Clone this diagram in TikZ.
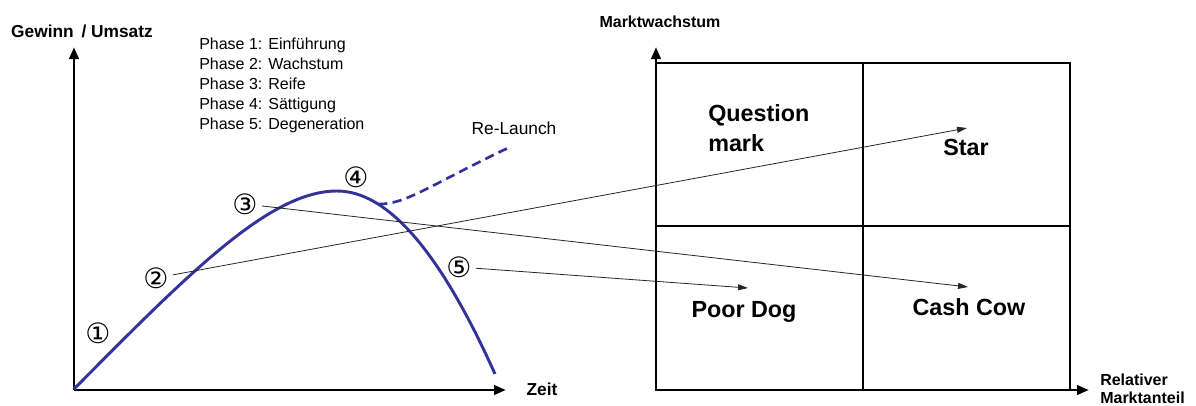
\documentclass[tikz,border=0pt]{standalone}
\usepackage{fontspec}
\setmainfont{Liberation Sans}
\newfontfamily\circfont{DejaVu Sans}
\usetikzlibrary{arrows.meta}
\definecolor{plc}{RGB}{51,51,153}

\begin{document}
\begin{tikzpicture}[x=0.75pt, y=-0.75pt,
  axis/.style={-{Triangle[length=9pt, width=7pt]}, line width=2.2pt},
  grid/.style={line width=1.5pt},
  lifeline/.style={draw=plc, line width=2.2pt},
  relaunch/.style={draw=plc, line width=2pt, dash pattern=on 7pt off 4pt},
  move/.style={-{Triangle[length=7.5pt, width=4.5pt]}, line width=0.6pt, black!85,
               shorten <=12.75pt},
  axlabel/.style={font=\fontsize{13}{15}\selectfont\bfseries, inner sep=0pt},
  axlabelR/.style={font=\fontsize{12}{13}\selectfont\bfseries, inner sep=0pt},
  quad/.style={font=\fontsize{17.5}{22.5}\selectfont\bfseries, inner sep=0pt, align=left},
  numlbl/.style={font=\circfont\fontsize{21}{21}\selectfont, inner sep=0pt}
]
\useasboundingbox (0,0) rectangle (1196,405);

% ── Lebenszyklus (links) ──────────────
\coordinate (o1) at (74,390);
\coordinate (y1) at (74,47);
\coordinate (x1) at (506,390);
\draw[axis] (o1) -- (y1);
\draw[axis] (o1) -- (x1);

\node[axlabel] (gewinn) at (82,31) {Gewinn\ \,/ Umsatz};
\node[axlabel] (zeit) at (542,389) {Zeit};

\node[font=\fontsize{12}{15}\selectfont, align=left, inner sep=0pt, anchor=north west]
  (phasen) at (199,38)
  {Phase 1: Einführung\\Phase 2: Wachstum\\Phase 3: Reife\\Phase 4: Sättigung\\Phase 5: Degeneration};

\draw[lifeline] (74,389) .. controls (190,272) and (270,191) .. (337,191)
  .. controls (400,191) and (455,285) .. (495,374);
\coordinate (rl) at (378,204);
\coordinate (rlend) at (510,147);
\draw[relaunch] (rl) .. controls (405,205) and (430,185) .. (rlend);
\node[font=\fontsize{13}{15}\selectfont, inner sep=0pt] (relaunchlbl) at (514,128) {Re-Launch};

\node[numlbl] (n1) at (98,333) {①};
\node[numlbl] (n2) at (156,278) {②};
\node[numlbl] (n3) at (245,204) {③};
\node[numlbl] (n4) at (356,177) {④};
\node[numlbl] (n5) at (459,267) {⑤};

% ── Portfolio-Matrix (rechts) ─────────
\coordinate (o2) at (656,390);
\coordinate (y2) at (656,47);
\coordinate (x2) at (1089,390);
\draw[grid] (656,63) rectangle (1070,390);
\draw[grid] (863,63) -- (863,390);
\draw[grid] (656,226) -- (1070,226);
\draw[axis] (o2) -- (y2);
\draw[axis] (o2) -- (x2);

\node[axlabelR] (wachstum) at (660,22) {Marktwachstum};
\node[axlabelR, align=left, anchor=north west] (anteil) at (1100,374)
  {Relativer\\Marktanteil};

\node[quad, anchor=north west] (question) at (708,104) {Question\\mark};
\node[quad, anchor=base] (star) at (966,155) {Star};
\node[quad, anchor=base] (dog) at (744,317) {Poor Dog};
\node[quad, anchor=base] (cow) at (969,315) {Cash Cow};

% ── Pfeile ────────────────────────────
\coordinate (tStar) at (967,128);
\coordinate (tCow) at (968,287);
\coordinate (tDog) at (748,288);
\draw[move] (n2.center) -- (tStar);
\draw[move] (n3.center) -- (tCow);
\draw[move] (n5.center) -- (tDog);

\end{tikzpicture}
\end{document}
